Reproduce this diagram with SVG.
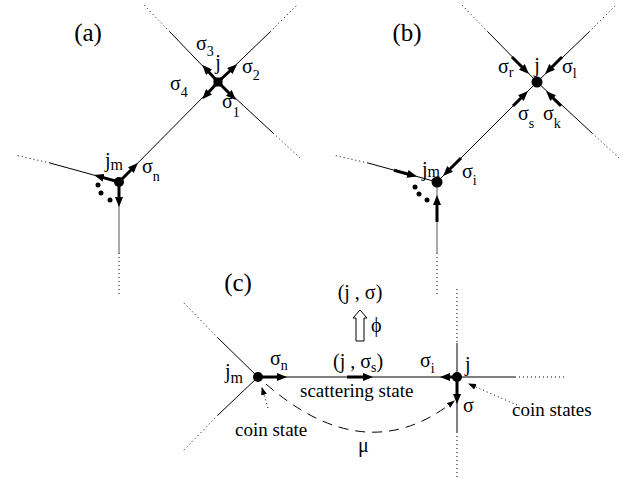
<svg xmlns="http://www.w3.org/2000/svg" width="633" height="487" viewBox="0 0 633 487">
<style>
.ln{stroke:#000;stroke-width:1;fill:none}
.gl{stroke:#555;stroke-width:1;fill:none}
.dt{stroke:#000;stroke-width:1;fill:none;stroke-dasharray:1 3}
.th{stroke:#000;stroke-width:3;fill:none;marker-end:url(#ah)}
.t{font-size:20px;fill:#000}
.s{font-size:14px}
.m{font-size:16px}
.pl{font-size:25px}
.sm{font-size:19px}
</style>
<defs>
<marker id="ah" markerUnits="userSpaceOnUse" viewBox="0 0 10 8" markerWidth="10" markerHeight="8" refX="3" refY="4" orient="auto">
<path d="M0,0 L10,4 L0,8 z" fill="#000"/>
</marker>
<marker id="sa" markerUnits="userSpaceOnUse" viewBox="0 0 8 6" markerWidth="8" markerHeight="6" refX="7" refY="3" orient="auto">
<path d="M0,0 L8,3 L0,6 z" fill="#000"/>
</marker>
</defs>

<g id="connectors">
<path class="ln" d="M218,82 L170,32 M218,82 L270,32 M218,82 L273,133 M218,82 L119,182 M119,182 L50,163"/>
<path class="gl" d="M119,182 L119,253"/>
<path class="dt" d="M170,32 L143,4 M270,32 L297,5 M273,133 L300,158 M50,163 L15,155 M119,253 L119,295"/>
<line class="th" x1="218" y1="82" x2="207" y2="70"/>
<line class="th" x1="218" y1="82" x2="232" y2="69"/>
<line class="th" x1="218" y1="82" x2="207" y2="94"/>
<line class="th" x1="218" y1="82" x2="231" y2="95"/>
<line class="th" x1="119" y1="182" x2="133" y2="168"/>
<line class="th" x1="119" y1="182" x2="100.7" y2="176.9"/>
<line class="th" x1="119" y1="182" x2="119" y2="200"/>
<path class="ln" d="M537,82 L488,32 M537,82 L589,32 M537,82 L592,133 M537,82 L437,182 M437,182 L368,163"/>
<path class="gl" d="M437,182 L437,253"/>
<path class="dt" d="M488,32 L461,4 M589,32 L616,5 M592,133 L619,158 M368,163 L333,155 M437,253 L437,295"/>
<line class="th" x1="512" y1="57" x2="524" y2="69"/>
<line class="th" x1="562" y1="57" x2="550" y2="69"/>
<line class="th" x1="513" y1="106" x2="523" y2="96"/>
<line class="th" x1="561" y1="106" x2="551" y2="96"/>
<line class="th" x1="461" y1="158" x2="448" y2="171"/>
<line class="th" x1="394" y1="170.2" x2="410.3" y2="174.7"/>
<line class="th" x1="437" y1="222" x2="437" y2="202"/>
<path class="ln" d="M258,377 L515,377 M457,343 L457,432 M258,377 L218,338 M258,377 L218,415"/>
<path class="dt" d="M515,377 L567,377 M457,289 L457,343 M457,432 L457,480 M218,338 L183,302 M218,415 L182,452"/>
<line class="th" x1="258" y1="377" x2="280" y2="377"/>
<line class="th" x1="347" y1="377" x2="366" y2="377"/>
<line class="th" x1="457" y1="377" x2="447" y2="377"/>
<line class="th" x1="457" y1="377" x2="457" y2="397"/>
<path d="M266,384 Q366,471 454,401" fill="none" stroke="#000" stroke-width="1" stroke-dasharray="10 7" marker-end="url(#sa)"/>
<path class="dt" d="M268,408 L262,388" marker-end="url(#sa)"/>
<path class="dt" d="M517,405 L469,384" marker-end="url(#sa)"/>
<polygon points="356,341 364,341 364,318 367,318 360,310 353,318 356,318" fill="#fff" stroke="#000" stroke-width="1"/>
</g>

<g id="node-a-j"><rect x="213.5" y="77.5" width="9" height="9" fill="#000"/></g>
<g id="node-a-jm"><circle cx="119" cy="182" r="5" fill="#000"/>
<circle cx="98" cy="185" r="2.5"/><circle cx="101" cy="193" r="2.5"/><circle cx="110" cy="200" r="2.5"/></g>
<g id="node-b-j"><circle cx="537" cy="82" r="5.5" fill="#000"/></g>
<g id="node-b-jm"><circle cx="437" cy="182" r="5.5" fill="#000"/>
<circle cx="415" cy="187" r="2.5"/><circle cx="419" cy="194" r="2.5"/><circle cx="427" cy="200" r="2.5"/></g>
<g id="node-c-jm"><circle cx="258" cy="377" r="5" fill="#000"/></g>
<g id="node-c-j"><circle cx="457" cy="377" r="5" fill="#000"/></g>

<g id="labels" font-family="'Liberation Serif', 'Times New Roman', 'DejaVu Serif', serif">
<text class="t pl" x="88" y="41" text-anchor="middle">(a)</text>
<text class="t pl" x="407" y="41" text-anchor="middle">(b)</text>
<text class="t pl" x="238" y="291" text-anchor="middle">(c)</text>

<text class="t" x="196" y="50">σ<tspan class="s" dy="6">3</tspan></text>
<text class="t" x="218" y="69" text-anchor="middle">j</text>
<text class="t" x="242" y="73">σ<tspan class="s" dy="7">2</tspan></text>
<text class="t" x="170" y="90">σ<tspan class="s" dy="7">4</tspan></text>
<text class="t" x="222" y="108">σ<tspan class="s" dy="9">1</tspan></text>
<text class="t" x="105" y="167">j<tspan class="m" dy="3">m</tspan></text>
<text class="t" x="142" y="173">σ<tspan class="s" dy="8">n</tspan></text>

<text class="t" x="498" y="73">σ<tspan class="s" dy="4">r</tspan></text>
<text class="t" x="537" y="72" text-anchor="middle">j</text>
<text class="t" x="562" y="73">σ<tspan class="s" dy="5">l</tspan></text>
<text class="t" x="518" y="120">σ<tspan class="s" dy="8">s</tspan></text>
<text class="t" x="543" y="120">σ<tspan class="s" dy="8">k</tspan></text>
<text class="t" x="422" y="176">j<tspan class="m" dy="1">m</tspan></text>
<text class="t" x="462" y="178">σ<tspan class="s" dy="7">i</tspan></text>

<text class="t" x="360" y="299" text-anchor="middle">(j , σ)</text>
<text class="t" x="371" y="332">ϕ</text>
<text class="t" x="270" y="365">σ<tspan class="s" dy="5">n</tspan></text>
<text class="t" x="333" y="368">(j , σ<tspan class="s" dy="4">s</tspan><tspan dy="-4">)</tspan></text>
<text class="t" x="420" y="367">σ<tspan class="s" dy="6">i</tspan></text>
<text class="t" x="465" y="371">j</text>
<text class="t" x="225" y="378">j<tspan class="m" dy="5">m</tspan></text>
<text class="t sm" x="300" y="397">scattering state</text>
<text class="t" x="463" y="412">σ</text>
<text class="t sm" x="512" y="416">coin states</text>
<text class="t sm" x="235" y="436">coin state</text>
<text class="t" x="358" y="452">μ</text>
</g>
</svg>
